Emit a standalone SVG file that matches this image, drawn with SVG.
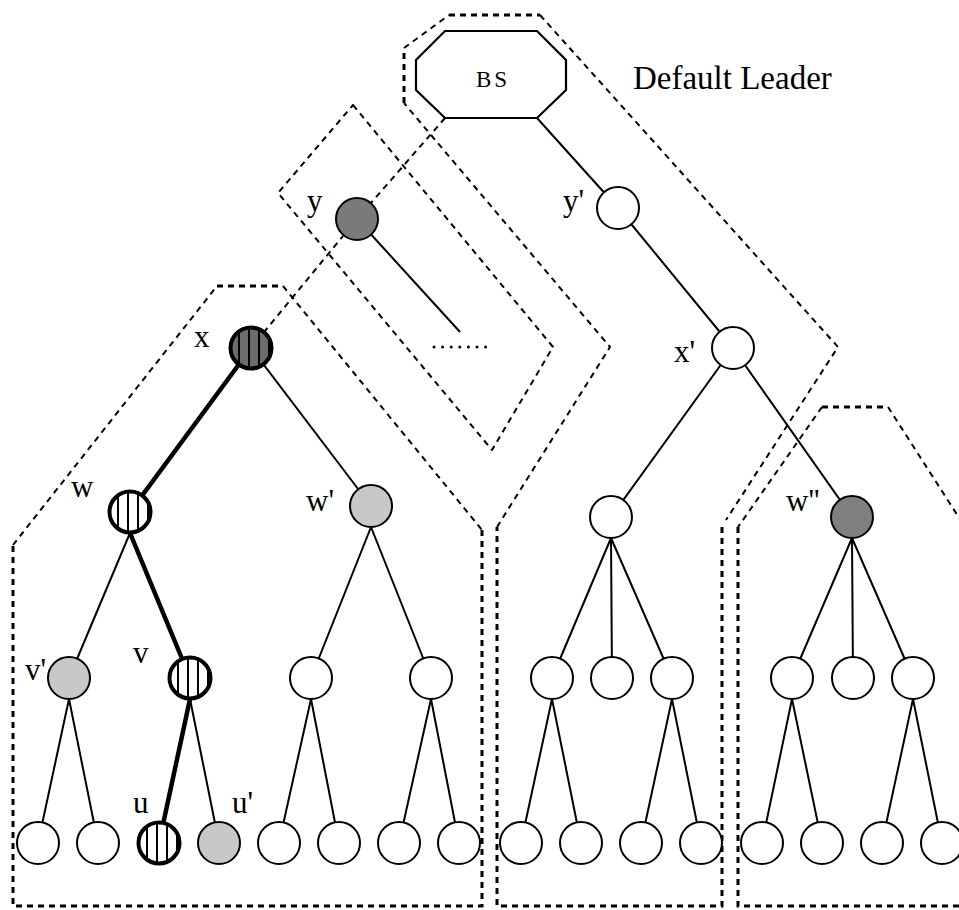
<svg xmlns="http://www.w3.org/2000/svg" xmlns:xlink="http://www.w3.org/1999/xlink" width="959" height="910" viewBox="0 0 959 910">
  <style>
    .rg { fill: none; stroke: #000; stroke-width: 2; stroke-dasharray: 6 5; stroke-linejoin: round; }
    .rgb { fill: none; stroke: #000; stroke-width: 3; stroke-dasharray: 6 5; }
    .e { stroke: #000; stroke-width: 2; fill: none; }
    .eb { stroke: #000; stroke-width: 4.5; fill: none; stroke-linecap: round; }
    .ed { stroke: #000; stroke-width: 2; fill: none; stroke-dasharray: 6 5; }
    .n { fill: #fff; stroke: #000; stroke-width: 2; }
    .lg { fill: #c8c8c8; }
    .dk { fill: #7a7a7a; }
    .dkx { fill: #6c6c6c; }
    .ring { fill: none; stroke: #000; stroke-width: 4; }
    .st { stroke: #000; stroke-width: 2; }
    text { font-family: "Liberation Serif", "Times New Roman", serif; fill: #000; }
    .lb { font-size: 31px; }
  </style>
  <defs>
    <clipPath id="disc"><circle r="20"/></clipPath>
    <g id="stripes" clip-path="url(#disc)">
      <path class="st" d="M-12,-22V22M-2,-22V22M8,-22V22M18,-22V22"/>
    </g>
  </defs>

  <!-- cluster outlines -->
  <g id="regions">
    <!-- default leader cluster -->
    <path class="rgb" d="M449,15H540"/>
    <path class="rg" d="M540,15L838,347L726,520"/>
    <path class="rgb" d="M722,527V906H497V527"/>
    <path class="rg" d="M497,527L610,347L404,103"/>
    <path class="rgb" d="M404,103V48"/>
    <path class="rg" d="M404,48L449,15"/>
    <!-- y cluster -->
    <path class="rg" d="M353,105L553,347L492,450L278,193Z"/>
    <!-- x cluster -->
    <path class="rgb" d="M217,286H283"/>
    <path class="rg" d="M283,286L482,530"/>
    <path class="rgb" d="M482,530V906H13V545"/>
    <path class="rg" d="M13,545L217,286"/>
    <!-- w'' cluster -->
    <path class="rgb" d="M822,407H888"/>
    <path class="rg" d="M888,407L965,527"/>
    <path class="rg" d="M822,407L738,527"/>
    <path class="rgb" d="M738,527V906H965"/>
  </g>

  <!-- connectors -->
  <g id="connectors">
    <path class="ed" d="M445,118L357,219L251,348"/>
    <path class="e" d="M537,118L618,208L733,348"/>
    <path class="e" d="M733,348L611,517M733,348L852,517"/>
    <path class="e" d="M357,219L460,332"/>
    <path d="M434,347H486" stroke="#000" stroke-width="3" stroke-linecap="round" stroke-dasharray="0 8.6" fill="none"/>
    <path class="e" d="M251,348L371,506"/>
    <path class="e" d="M130,533L69,678"/>
    <path class="e" d="M371,527L311,678M371,527L431,678"/>
    <path class="e" d="M69,699L38,843M69,699L98,843"/>
    <path class="e" d="M190,699L219,843"/>
    <path class="e" d="M311,699L279,843M311,699L339,843M431,699L399,843M431,699L459,843"/>
    <path class="e" d="M611,538L552,678M611,538L612,678M611,538L672,678"/>
    <path class="e" d="M552,699L521,843M552,699L581,843M672,699L641,843M672,699L701,843"/>
    <path class="e" d="M852,538L792,678M852,538L853,678M852,538L913,678"/>
    <path class="e" d="M792,699L762,843M792,699L822,843M913,699L882,843M913,699L942,843"/>
    <!-- highlighted route -->
    <path class="eb" d="M251,348L130,512"/>
    <path class="eb" d="M130,533L190,678"/>
    <path class="eb" d="M190,699L159,843"/>
  </g>

  <!-- base station -->
  <g id="bs">
    <path d="M445,31H537L566,60V90L537,118H445L416,90V60Z" fill="#fff" stroke="#000" stroke-width="2.2"/>
    <text x="476" y="87" font-size="23" letter-spacing="3">BS</text>
  </g>
  <text id="default-leader" x="633" y="89" font-size="33">Default Leader</text>

  <g id="node-y"><circle class="n dk" cx="357" cy="219" r="21"/><text class="lb" x="307" y="211">y</text></g>
  <g id="node-y1"><circle class="n" cx="618" cy="208" r="21"/><text class="lb" x="563" y="211">y'</text></g>
  <g id="node-x">
    <circle class="n dkx" cx="251" cy="348" r="21"/>
    <use xlink:href="#stripes" x="251" y="348"/>
    <circle class="ring" cx="251" cy="348" r="20.5"/>
    <text class="lb" x="194" y="347">x</text>
  </g>
  <g id="node-x1"><circle class="n" cx="733" cy="348" r="21"/><text class="lb" x="674" y="362">x'</text></g>
  <g id="node-w">
    <circle class="n" cx="130" cy="512" r="21"/>
    <use xlink:href="#stripes" x="130" y="512"/>
    <circle class="ring" cx="130" cy="512" r="20.5"/>
    <text class="lb" x="71" y="497">w</text>
  </g>
  <g id="node-w1"><circle class="n lg" cx="371" cy="506" r="21"/><text class="lb" x="306" y="511">w'</text></g>
  <g id="node-m"><circle class="n" cx="611" cy="517" r="21"/></g>
  <g id="node-w2"><circle class="n" style="fill:#808080" cx="852" cy="517" r="21"/><text class="lb" x="786" y="511">w''</text></g>

  <g id="node-v1"><circle class="n lg" cx="69" cy="678" r="21"/><text class="lb" x="25" y="680">v'</text></g>
  <g id="node-v">
    <circle class="n" cx="190" cy="678" r="21"/>
    <use xlink:href="#stripes" x="190" y="678"/>
    <circle class="ring" cx="190" cy="678" r="20.5"/>
    <text class="lb" x="133" y="663">v</text>
  </g>
  <g id="node-a1"><circle class="n" cx="311" cy="678" r="21"/></g>
  <g id="node-a2"><circle class="n" cx="431" cy="678" r="21"/></g>
  <g id="node-m1"><circle class="n" cx="552" cy="678" r="21"/></g>
  <g id="node-m2"><circle class="n" cx="612" cy="678" r="21"/></g>
  <g id="node-m3"><circle class="n" cx="672" cy="678" r="21"/></g>
  <g id="node-n1"><circle class="n" cx="792" cy="678" r="21"/></g>
  <g id="node-n2"><circle class="n" cx="853" cy="678" r="21"/></g>
  <g id="node-n3"><circle class="n" cx="913" cy="678" r="21"/></g>

  <g id="leaf-1"><circle class="n" cx="38" cy="843" r="21"/></g>
  <g id="leaf-2"><circle class="n" cx="98" cy="843" r="21"/></g>
  <g id="node-u">
    <circle class="n" cx="159" cy="843" r="21"/>
    <use xlink:href="#stripes" x="159" y="843"/>
    <circle class="ring" cx="159" cy="843" r="20.5"/>
    <text class="lb" x="133" y="813">u</text>
  </g>
  <g id="node-u1"><circle class="n lg" cx="219" cy="843" r="21"/><text class="lb" x="232" y="813">u'</text></g>
  <g id="leaf-5"><circle class="n" cx="279" cy="843" r="21"/></g>
  <g id="leaf-6"><circle class="n" cx="339" cy="843" r="21"/></g>
  <g id="leaf-7"><circle class="n" cx="399" cy="843" r="21"/></g>
  <g id="leaf-8"><circle class="n" cx="459" cy="843" r="21"/></g>
  <g id="leaf-9"><circle class="n" cx="521" cy="843" r="21"/></g>
  <g id="leaf-10"><circle class="n" cx="581" cy="843" r="21"/></g>
  <g id="leaf-11"><circle class="n" cx="641" cy="843" r="21"/></g>
  <g id="leaf-12"><circle class="n" cx="701" cy="843" r="21"/></g>
  <g id="leaf-13"><circle class="n" cx="762" cy="843" r="21"/></g>
  <g id="leaf-14"><circle class="n" cx="822" cy="843" r="21"/></g>
  <g id="leaf-15"><circle class="n" cx="882" cy="843" r="21"/></g>
  <g id="leaf-16"><circle class="n" cx="942" cy="843" r="21"/></g>
</svg>
